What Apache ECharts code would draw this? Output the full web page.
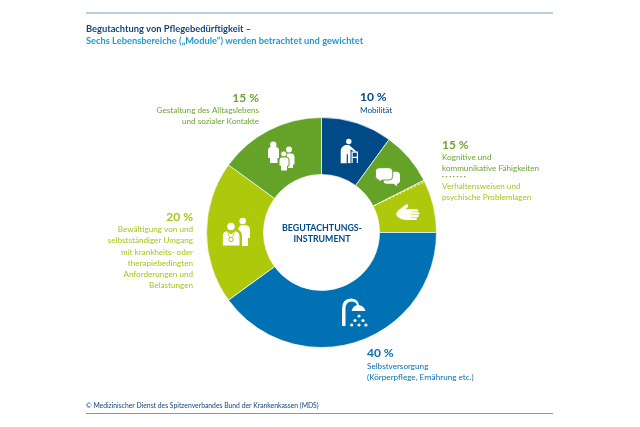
<!DOCTYPE html>
<html><head><meta charset="utf-8">
<style>html,body{margin:0;padding:0;background:#fff}#c{width:640px;height:427px}</style>
<script src="https://cdn.jsdelivr.net/npm/echarts@6/dist/echarts.min.js"></script>
</head><body><div id="c"></div>
<script>
const moduleNames = ['Mobilität','Kognitive und kommunikative Fähigkeiten','Verhaltensweisen und psychische Problemlagen','Selbstversorgung','Bewältigung','Gestaltung des Alltagslebens'];
const moduleValues = [10,7.5,7.5,40,20,15];
const moduleColors = ['#004b87','#65a328','#aec90b','#0071b2','#aec90b','#65a328'];
const titleLines = ['Begutachtung von Pflegebedürftigkeit –','Sechs Lebensbereiche („Module“) werden betrachtet und gewichtet'];
const centerLines = ['BEGUTACHTUNGS-','INSTRUMENT'];
const footer = '© Medizinischer Dienst des Spitzenverbandes Bund der Krankenkassen (MDS)';
const F = 'Lato, "Noto Sans", sans-serif';
const NAVY='#004b87', BLUE='#0071b2', GRN='#6ea52f', LIME='#a9c41a', SEG_G='#65a328', SEG_L='#aec90b';

function t(x,y,text,fill,size,weight,align){
  return {type:'text',x:x,y:y,z:10,silent:true,style:{text:text,fill:fill,font:(weight||'normal')+' '+size+'px '+F,textAlign:align||'left',textVerticalAlign:'middle'}};
}
function big(x,y,text,fill,align){return t(x,y,text,fill,12,'bold',align);}
function small(x,ys,lines,fill,align){return lines.map((l,i)=>t(x,ys[i],l,fill,8.15,'normal',align));}
let iconCount=0;
function icon(d,stroke){
  const name='icon'+(iconCount++);
  echarts.graphic.registerShape(name,echarts.graphic.extendPath(d,{}));
  return {type:name,z:10,silent:true,style:stroke?{fill:'#fff',stroke:stroke,lineWidth:1}:{fill:'#fff'}};
}
function dot(cx,cy,r,stroke){return {type:'circle',z:10,silent:true,shape:{cx:cx,cy:cy,r:r},style:stroke?{fill:'#fff',stroke:stroke,lineWidth:0.8}:{fill:'#fff'}};}

const graphic=[
 {type:'line',silent:true,shape:{x1:86,y1:13,x2:553,y2:13},style:{stroke:'#7a9cbc',lineWidth:1}},
 {type:'line',silent:true,shape:{x1:86,y1:413.5,x2:553,y2:413.5},style:{stroke:'#7a9cbc',lineWidth:1}},
 t(86,28.5,titleLines[0],'#12457c',9.3,'bold'),
 t(86,41,titleLines[1],'#1d9bd6',9.3,'bold'),
 t(322,228,centerLines[0],NAVY,8.8,'bold','center'),
 t(322,239.5,centerLines[1],NAVY,8.8,'bold','center'),
 big(360,97,'10 %',NAVY),
 ...small(360,[110],['Mobilität'],NAVY),
 big(442,145,'15 %',GRN),
 ...small(442,[157,168],['Kognitive und','kommunikative Fähigkeiten'],GRN),
 t(442,177,'· · · · · · ·',GRN,7,'bold'),
 ...small(442,[186,197],['Verhaltensweisen und','psychische Problemlagen'],LIME),
 big(259,98,'15 %',GRN,'right'),
 ...small(259,[110,121],['Gestaltung des Alltagslebens','und sozialer Kontakte'],GRN,'right'),
 big(193,217,'20 %',LIME,'right'),
 ...small(193,[229.5,240.5,252,263,274,285],['Bewältigung von und','selbstständiger Umgang','mit krankheits- oder','therapiebedingten','Anforderungen und','Belastungen'],LIME,'right'),
 big(367,353.5,'40 %',BLUE),
 ...small(367,[366,377],['Selbstversorgung','(Körperpflege, Ernährung etc.)'],BLUE),
 t(86,405.5,footer,'#12457c',6.8,'normal'),
 // walker
 dot(348.8,141.5,2.7),
 icon('M345.5 145 h3.5 l7 6 l-1 1.2 l-4.5 -3 v14 h-2.6 v-9 h-1.2 v9 h-6 v-12 q0 -4.5 4.8 -6.2 Z'),
 icon('M351.5 151.5 h6.5 v11.5 h-1.2 v-5 h-4.1 v5 h-1.2 Z M352.7 152.7 v4.1 h4.1 v-4.1 Z'),
 // people
 dot(273.3,144.6,3.2),
 icon('M268 150 q0 -2.5 2.5 -3 h6 q2.5 .5 2.5 3 v8 h-1.5 v5 h-7.5 v-5 h-2 Z'),
 dot(289,149.6,3),
 icon('M285 153.5 h7 q2.5 .5 2.5 3 v8 h-1.5 v3.5 h-5 v-10 Z'),
 dot(283.7,154,3,SEG_G),
 icon('M279 160 q0 -2.5 2.5 -3 h5 q2.5 .5 2.5 3 v6 h-1.5 v5 h-7 v-5 h-1.5 Z',SEG_G),
 // speech bubbles
 icon('M387 171.7 h9.5 q3.5 0 3.5 3.5 v5.3 q0 3 -3 3.3 l0.2 2.5 l-3.8 -2.5 h-6.4 q-3.5 0 -3.5 -3.5 v-5 q0 -3.6 3.5 -3.6 Z'),
 icon('M380 167.7 h9 q3.7 0 3.7 3.6 v5.2 q0 3.5 -3.7 3.5 h-6.5 l-3.5 2 v-2 q-3.5 -.2 -3.5 -3.5 v-5.2 q0 -3.6 4.5 -3.6 Z',SEG_G),
 // hand
 icon('M396 214 q1 -3 4 -5 l6 -4.5 q2 -.8 2.3 1 q.2 1.4 -3 3.8 h11.5 q1.7 .2 1.7 1.2 q0 1 -1.7 1.2 h-6 v.5 h7.5 q1.4 .1 1.4 1.1 q0 1 -1.4 1.1 h-7.5 v.6 h6.8 q1.3 .1 1.3 1.1 q0 1 -1.3 1.1 h-6.8 v.5 h5 q1.3 .1 1.3 1 q0 1 -1.3 1.2 h-9 q-6 0 -10 -4 Z'),
 // doctor
 dot(242.7,221,3.3),
 icon('M238 229 q1 -3 3 -4 h4 q5 .5 5 5 v8 h-2 v8 h-6 v-11 q-1 -4 -4 -6 Z'),
 dot(231,226.5,4.1,SEG_L),
 icon('M222.3 246 v-10 q0 -4.5 4.7 -5.3 l4 3 l4 -3 q5 1 5 5.3 v10 Z',SEG_L),
 {type:'circle',z:11,silent:true,shape:{cx:231,cy:239.5,r:2.2},style:{fill:'none',stroke:SEG_L,lineWidth:1}},
 {type:'polyline',z:11,silent:true,shape:{points:[[227.5,231],[229.5,237.5]]},style:{stroke:SEG_L,lineWidth:0.8,fill:'none'}},
 {type:'polyline',z:11,silent:true,shape:{points:[[234.5,231],[232.5,237.5]]},style:{stroke:SEG_L,lineWidth:0.8,fill:'none'}},
 // shower
 icon('M342 326 v-17 q0 -10.5 9 -10.5 q7 0 8 6.5 q5 1 6.5 6 h-14 q1 -4.5 5.5 -6 q-1 -3.5 -5.5 -3.5 q-6 0 -6 7.5 v17 Z'),
 dot(359,316,1.6),
 dot(355,320.5,1.6),dot(363,320.5,1.6),
 dot(351.7,325,1.6),dot(359,325,1.6),dot(365.9,325,1.6),
 {type:'line',z:10,silent:true,shape:{x1:374.5,y1:205.5,x2:424,y2:182},style:{stroke:'#fff',lineWidth:1,lineDash:[2,2]}}
];

const chart=echarts.init(document.getElementById('c'),null,{renderer:'canvas'});
chart.setOption({
 animation:false,backgroundColor:'#fff',
 series:[{type:'pie',silent:true,center:[321.5,232.5],radius:[58,115],startAngle:90,clockwise:true,
  label:{show:false},labelLine:{show:false},
  itemStyle:{borderColor:'#fff',borderWidth:0.7},
  data:moduleNames.map((n,i)=>({name:n,value:moduleValues[i],itemStyle:{color:moduleColors[i]}}))}],
 graphic:{elements:graphic}
});
</script></body></html>
